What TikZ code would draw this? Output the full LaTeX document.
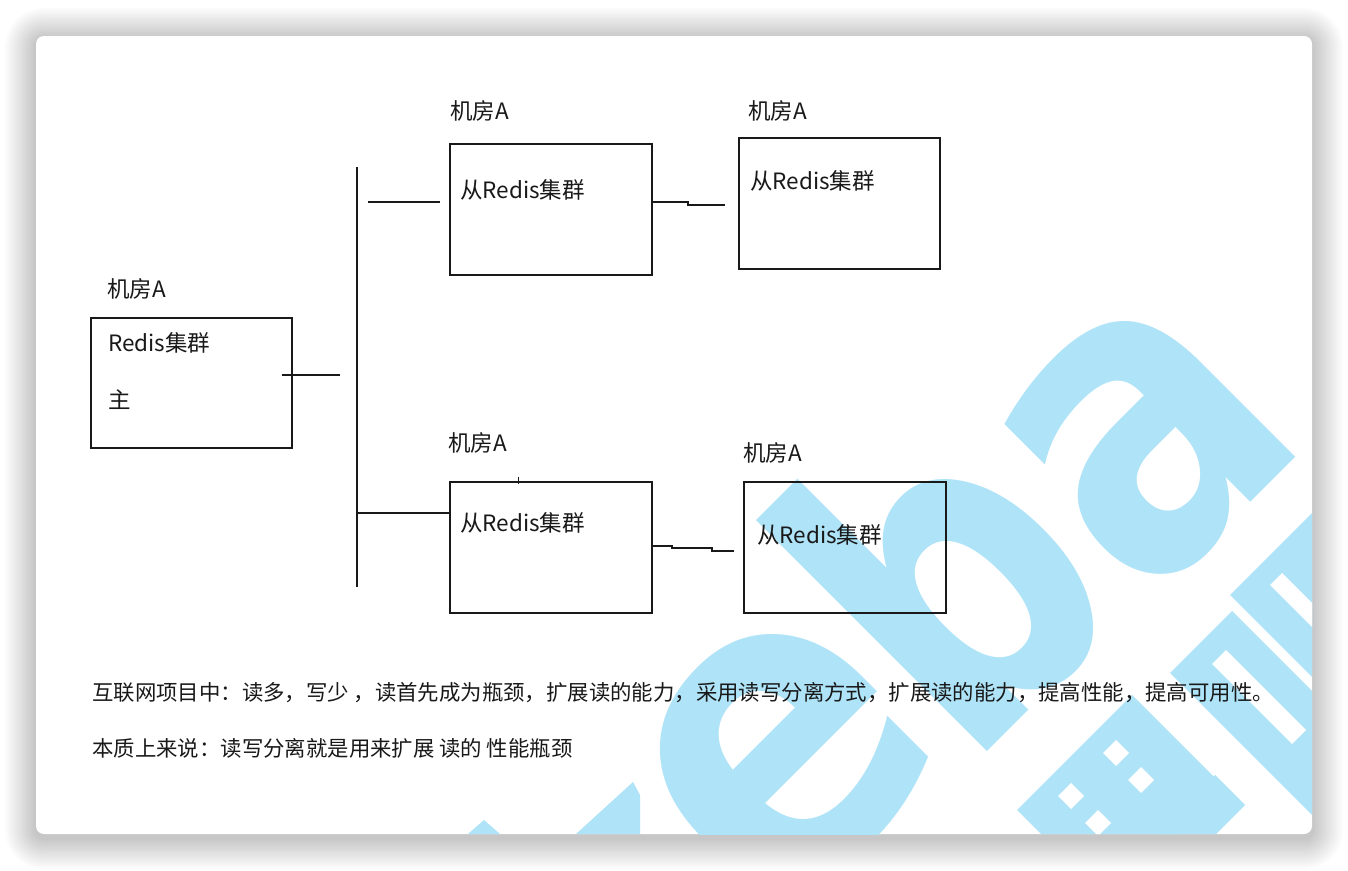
\documentclass[tikz,border=0pt]{standalone}
\usepackage{fontspec}
\setmainfont{Noto Sans CJK SC}
\newfontfamily\wmfont{DejaVu Sans}
\definecolor{wmblue}{RGB}{174,227,248}
\definecolor{ink}{RGB}{25,25,25}
\tikzset{
  boxn/.style={draw=ink, line width=1.8pt, inner sep=0pt, anchor=north west},
  lbl/.style={anchor=west, inner sep=0pt, text=ink, font=\fontsize{22.5}{26}\selectfont},
  para/.style={anchor=west, inner sep=0pt, text=ink, font=\fontsize{21.4}{25}\selectfont},
  conn/.style={draw=ink, line width=1.8pt},
  wmletter/.style={inner sep=0pt, text=wmblue, rotate=45, font=\wmfont\bfseries\fontsize{430}{430}\selectfont},
  wm/.style={fill=wmblue, draw=none}
}
\begin{document}
\begin{tikzpicture}[x=1pt,y=-1pt]
\useasboundingbox (0,0) rectangle (1348,870);
\fill[white] (0,0) rectangle (1348,870);
% card shadow
\foreach \i [evaluate=\i as \d using \i*2.2, evaluate=\i as \r using 8+\i*2.2] in {1,...,14}{
  \fill[black, opacity=0.014, rounded corners=\r pt] (36-\d,36-\d+3) rectangle (1312+\d,834+\d+4);
}
% card
\fill[white, rounded corners=8pt] (36,36) rectangle (1312,834);
% watermark
\begin{scope}
\clip[rounded corners=8pt] (36,36) rectangle (1312,834);
\node[wmletter, xscale=0.84] (wa) at (1147,440) {a};
\node[wmletter, xscale=0.78] (wb) at (939,573) {b};
\node[wmletter, xscale=0.9] (we) at (783,757) {e};
\fill[wm] (1170,673) -- ++(62,-62) -- ++(200,200) -- ++(-62,62) -- cycle;
\fill[white] (1212,664) -- ++(14,-14) -- ++(80,80) -- ++(-14,14) -- cycle;
\fill[wm] (1230,595) -- ++(100,-100) -- ++(90,90) -- ++(-100,100) -- cycle;
\fill[white] (1270,585) -- ++(12,-12) -- ++(45,45) -- ++(-12,12) -- cycle;
\fill[wm] (1017,810) -- ++(115,-115) -- ++(95,95) -- ++(-115,115) -- cycle;
\foreach \cx/\cy in {1116/753, 1141/780, 1071/796, 1098/823}{
  \fill[white] (\cx-13,\cy) -- (\cx,\cy-13) -- (\cx+13,\cy) -- (\cx,\cy+13) -- cycle;
}
\fill[wm] (1150,840) -- ++(65,-65) -- ++(30,30) -- ++(-65,65) -- cycle;
\fill[wm] (576,834) -- (633,782) -- (640,795) -- (640,834) -- cycle;
\fill[wm] (468,834) -- (484,820) -- (500,834) -- cycle;
\end{scope}
% boxes
\node[boxn, minimum width=201, minimum height=130] (m) at (90,317) {};
\node[boxn, minimum width=202, minimum height=131] (s1) at (449,143) {};
\node[boxn, minimum width=201, minimum height=131] (s2) at (738,137) {};
\node[boxn, minimum width=202, minimum height=131] (s3) at (449,481) {};
\node[boxn, minimum width=202, minimum height=131] (s4) at (743,481) {};
% labels
\node[lbl] (lm) at (107,289) {机房A};
\node[lbl] (l1) at (450,111) {机房A};
\node[lbl] (l2) at (748,111) {机房A};
\node[lbl] (l3) at (448,443) {机房A};
\node[lbl] (l4) at (743,453) {机房A};
\node[lbl] (tm) at (108,343) {Redis集群};
\node[lbl] (tz) at (108,400) {主};
\node[lbl] (t1) at (460,190) {从Redis集群};
\node[lbl] (t2) at (750,181) {从Redis集群};
\node[lbl] (t3) at (460,523) {从Redis集群};
\node[lbl] (t4) at (757,535) {从Redis集群};
% connectors
\coordinate (mo) at (282,375);
\coordinate (mi) at (340,375);
\coordinate (bt) at (357,167);
\coordinate (bb) at (357,587);
\coordinate (u0) at (368,202);
\coordinate (u1) at (440,202);
\coordinate (d0) at (358,513);
\draw[conn] (mo) -- (mi);
\draw[conn] (bt) -- (bb);
\draw[conn] (u0) -- (u1);
\draw[conn] (d0) -- (d0 -| s3.west);
\draw[conn] (s1.east |- 0,202) -- (688,202) -- (688,205) -- (725,205);
\draw[conn] (s3.east |- 0,546) -- (672,546) -- (672,548) -- (712,548) -- (712,551) -- (734,551);
\draw[draw=ink, line width=1pt] (518,477) -- (518,484);
% paragraph
\node[para] (p1) at (92,693) {互联网项目中：读多，写少 ，读首先成为瓶颈，扩展读的能力，采用读写分离方式，扩展读的能力，提高性能，提高可用性。};
\node[para] (p2) at (92,748) {本质上来说：读写分离就是用来扩展 读的 性能瓶颈};
\end{tikzpicture}
\end{document}
